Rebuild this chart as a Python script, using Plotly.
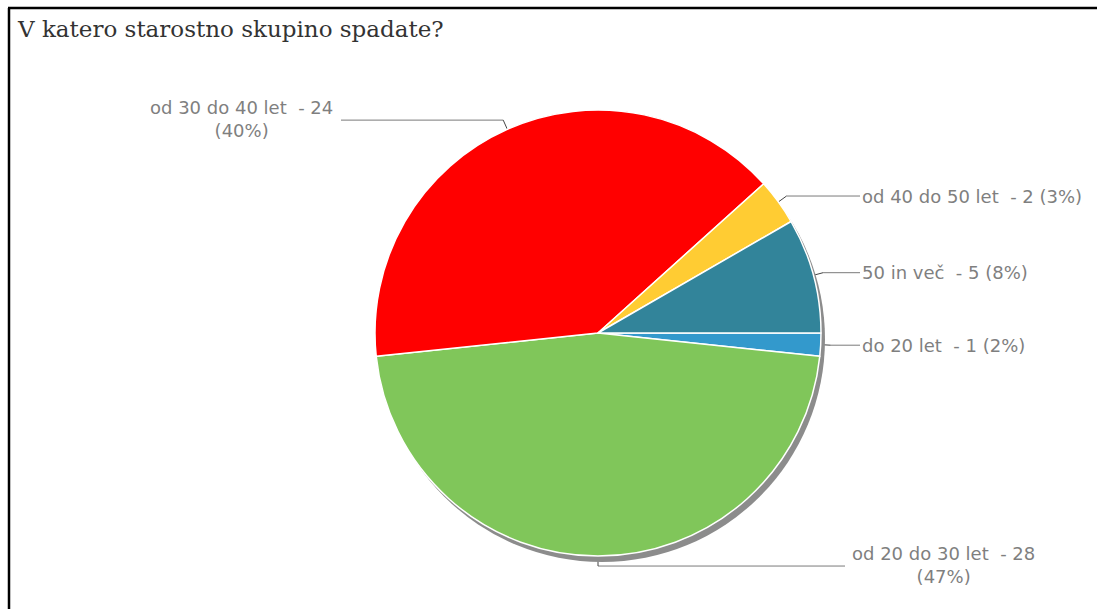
import numpy as np
import plotly.graph_objects as go

# Age groups, clockwise from 3 o'clock
categories = ["do 20 let", "od 20 do 30 let", "od 30 do 40 let", "od 40 do 50 let", "50 in več"]
counts = [1, 28, 24, 2, 5]
colors = ["#3399cc", "#80c65a", "#ff0000", "#ffcc33", "#32849a"]
title_text = "V katero starostno skupino spadate?"

W, H = 1097, 609
cx, cy, R = 598, 333, 223          # pie centre / radius in pixels
shadow_dx, shadow_dy = 4, 6

def dom(x0, x1, y0, y1):
    return dict(x=[x0 / W, x1 / W], y=[1 - y1 / H, 1 - y0 / H])

fig = go.Figure()

# drop shadow
fig.add_trace(go.Pie(
    values=[1], marker=dict(colors=["#8c8c8c"], line=dict(width=0)),
    textinfo="none", hoverinfo="skip", sort=False, showlegend=False,
    domain=dom(cx - R + shadow_dx, cx + R + shadow_dx, cy - R + shadow_dy, cy + R + shadow_dy),
))

fig.add_trace(go.Pie(
    labels=categories, values=counts, sort=False, direction="clockwise", rotation=90,
    marker=dict(colors=colors, line=dict(color="white", width=1.5)),
    textinfo="none", showlegend=False,
    domain=dom(cx - R, cx + R, cy - R, cy + R),
))

# leader lines and labels
total = sum(counts)
label_end_x = [860, 845, 341, 860, 860]
two_line = [False, True, True, False, False]
label_anchor = [
    dict(x=860, xanchor="left"),
    dict(x=943, xanchor="center"),
    dict(x=241, xanchor="center"),
    dict(x=860, xanchor="left"),
    dict(x=860, xanchor="left"),
]

cum = 0
inner_x, inner_y, outer_x, outer_y = [], [], [], []
for i, (cat, v) in enumerate(zip(categories, counts)):
    mid = np.deg2rad((cum + v / 2) / total * 360)
    cum += v
    ux, uy = np.cos(mid), np.sin(mid)
    sx, sy = cx + 0.90 * R * ux, cy + 0.90 * R * uy
    ex, ey = cx + 1.045 * R * ux, cy + 1.045 * R * uy
    inner_x += [sx, ex, None]
    inner_y += [sy, ey, None]
    outer_x += [ex, label_end_x[i], None]
    outer_y += [ey, ey, None]

    pct = round(v / total * 100)
    if two_line[i]:
        txt = f"{cat}\u00a0\u00a0- {v}<br>({pct}%)"
        ty = ey - 1
    else:
        txt = f"{cat}\u00a0\u00a0- {v} ({pct}%)"
        ty = ey
    a = label_anchor[i]
    fig.add_annotation(x=a["x"], y=ty, xref="x", yref="y", text=txt, showarrow=False,
                       xanchor=a["xanchor"], yanchor="middle", align="center",
                       font=dict(family="DejaVu Sans, sans-serif", size=18, color="#7f7f7f"))

fig.add_trace(go.Scatter(x=outer_x, y=outer_y, mode="lines", hoverinfo="skip",
                         line=dict(color="#7a7a7a", width=1), showlegend=False))
fig.add_trace(go.Scatter(x=inner_x, y=inner_y, mode="lines", hoverinfo="skip",
                         line=dict(color="#444444", width=1), showlegend=False))

fig.add_annotation(x=15, y=29, xref="x", yref="y", text=title_text, showarrow=False,
                   xanchor="left", yanchor="middle",
                   font=dict(family="DejaVu Serif, serif", size=23, color="#333333"))

# frame: top and left rules
fig.add_shape(type="line", x0=9, y0=H, x1=9, y1=8, xref="x", yref="y",
              line=dict(color="black", width=2.5))
fig.add_shape(type="line", x0=8, y0=8, x1=W, y1=8, xref="x", yref="y",
              line=dict(color="black", width=2.5))

fig.update_layout(
    width=W, height=H, margin=dict(l=0, r=0, t=0, b=0),
    paper_bgcolor="white", plot_bgcolor="rgba(0,0,0,0)",
    xaxis=dict(range=[0, W], visible=False, fixedrange=True),
    yaxis=dict(range=[H, 0], visible=False, fixedrange=True),
)

fig.write_html("out.html")
